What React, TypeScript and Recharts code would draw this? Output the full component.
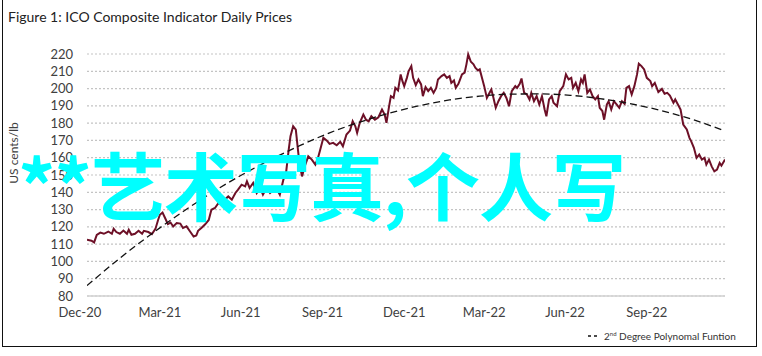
import React from 'react'
import { LineChart, Line, XAxis, YAxis, CartesianGrid } from 'recharts'

// x values are days counted from 1 Dec 2020
const priceDays = [
  8, 13, 16, 19, 23, 27, 32, 36, 38, 41, 45, 49, 53, 55, 58, 62, 66, 70, 72, 77,
  81, 85, 88, 90, 93, 96, 99, 102, 105, 109, 113, 116, 120, 124, 128, 131, 133, 137, 141, 145,
  148, 152, 156, 160, 163, 167, 171, 175, 178, 182, 186, 188, 191, 195, 199, 203, 206, 210, 214, 218,
  221, 225, 229, 232, 235, 237, 240, 243, 245, 247, 250, 253, 257, 261, 265, 268, 270, 274, 278, 281,
  285, 289, 293, 296, 300, 304, 307, 310, 312, 315, 319, 322, 325, 328, 332, 336, 340, 343, 345, 348,
  350, 353, 355, 358, 361, 363, 365, 368, 370, 373, 375, 378, 381, 384, 386, 389, 392, 395, 398, 401,
  403, 407, 410, 413, 416, 418, 421, 423, 426, 430, 433, 435, 437, 440, 443, 445, 448, 450, 453, 455,
  458, 460, 463, 465, 468, 471, 474, 477, 480, 483, 486, 490, 492, 495, 497, 500, 503, 506, 508, 511,
  514, 517, 520, 523, 525, 528, 531, 533, 537, 540, 544, 547, 550, 553, 555, 558, 561, 564, 566, 568,
  571, 574, 577, 580, 583, 585, 588, 590, 593, 595, 598, 601, 604, 607, 610, 613, 615, 618, 621, 624,
  627, 629, 632, 635, 638, 642, 644, 647, 651, 655, 658, 661, 664, 668, 670, 673, 676, 679, 683, 686,
  688, 691, 694, 697, 700, 703, 705, 708, 711, 714, 717, 720, 722, 726,
]

const prices = [
  112.5, 112, 111, 115.4, 116.7, 116, 117.3, 116, 118.9, 117, 116, 117.9, 116, 118.3, 115.4, 116, 117.7, 116, 117.7, 117,
  115.8, 118.8, 124, 127, 128.3, 125, 121.6, 122.5, 120.2, 122.2, 121.9, 119.3, 120.3, 117.3, 114.4, 115, 117.7, 119.5, 121.5, 124,
  129.9, 130.9, 133.8, 133, 135.7, 137.6, 135.7, 139.6, 141.5, 144.4, 143.4, 146.3, 142.5, 145.4, 139.6, 142.5, 138.6, 142.5, 139.6, 141.5,
  142.5, 138.6, 147.3, 151.2, 164.7, 172.4, 178.2, 176.3, 166.6, 157, 149.2, 155, 160.8, 158.9, 156, 160, 163.7, 171.5, 169.9, 168,
  168.6, 167.2, 169.2, 166.6, 173.4, 175.7, 181.1, 178.2, 174.4, 180.2, 185, 182, 181.1, 184, 182, 183.4, 187.9, 185, 180.2, 189.8,
  195.6, 194.6, 200.4, 198.9, 208.2, 204.3, 201.4, 206.2, 210.1, 213, 206.2, 202, 205.3, 202.4, 195.6, 200.8, 198.5, 200.4, 197.5, 200.4,
  205.3, 207.2, 208.2, 206.2, 207.2, 203.3, 204.7, 200.4, 202.7, 208.2, 209.2, 214, 219.8, 215.5, 214, 212.1, 210.5, 211.1, 205.3, 201.4,
  194.6, 196.6, 199.5, 195.6, 188.9, 192.7, 195.6, 197.5, 194.6, 189.8, 198.5, 201.4, 200.4, 202.7, 205.8, 197.5, 196.6, 193.7, 197.5, 192.7,
  195.6, 190.8, 195.6, 187.9, 184, 193.7, 195.6, 191.8, 189.8, 198.5, 201.4, 208.2, 205.3, 206.2, 200.4, 203.3, 198.5, 205.3, 203.3, 208.2,
  197.5, 199.5, 195.6, 193.7, 195.6, 188.9, 187, 182, 190.8, 192.7, 187.9, 192.7, 190.8, 188.9, 192.7, 191.2, 200.4, 201.4, 196.6, 201.4,
  208.2, 214.4, 213, 211.1, 206.2, 204.3, 201.4, 203.3, 198, 199.8, 197, 197.5, 196, 191.8, 193.7, 190.8, 187.9, 179.2, 176.3, 171.5,
  169.5, 165.7, 159.9, 161.8, 158.9, 159.9, 156, 158.9, 155, 152.1, 153.1, 157, 155.4, 158.9,
]

const trendDays = [8, 45, 79, 113, 146, 180, 214, 248, 281, 315, 349, 383, 416, 450, 484, 518, 552, 585, 619, 653, 687, 726]
const trendValues = [
  86, 101.9, 115.3, 127.7, 139, 149.4, 158.7, 167.1, 174.4, 180.6, 185.9,
  190.2, 193.4, 195.6, 196.8, 196.9, 196.1, 194.2, 191.3, 187.4, 182.5, 175.5,
]

const tickDays = [0, 90, 181, 273, 365, 455, 546, 638]
const tickLabels = ['Dec-20', 'Mar-21', 'Jun-21', 'Sep-21', 'Dec-21', 'Mar-22', 'Jun-22', 'Sep-22']
const yTicks = [80, 90, 100, 110, 120, 130, 140, 150, 160, 170, 180, 190, 200, 210, 220]

const priceData = priceDays.map((day, i) => ({ day, price: prices[i] }))
const trendData = trendDays.map((day, i) => ({ day, trend: trendValues[i] }))

const font = 'Lato, "Open Sans", sans-serif'
const tickStyle = { fontSize: 13, fill: '#404040', fontFamily: font }

export default function App() {
  const labelFor = (d: number) => tickLabels[tickDays.indexOf(d)] ?? ''

  return (
    <div style={{ position: 'absolute', left: 0, top: 0, width: 762, height: 356, background: '#fff', overflow: 'hidden' }}>
      <div
        style={{
          position: 'absolute', left: 2, top: -2, width: 753, height: 348,
          borderLeft: '1.5px solid #111', borderRight: '1.5px solid #111', borderBottom: '1.5px solid #111',
        }}
      />
      <div style={{ position: 'absolute', left: 8, top: 8, fontFamily: font, fontSize: 14, color: '#222' }}>
        Figure 1: ICO Composite Indicator Daily Prices
      </div>
      <div
        style={{
          position: 'absolute', left: 13, top: 153, fontFamily: font, fontSize: 12, color: '#404040',
          transform: 'translate(-50%, -50%) rotate(-90deg)', whiteSpace: 'nowrap',
        }}
      >
        US cents/lb
      </div>

      <div style={{ position: 'absolute', left: 0, top: 0 }}>
        <LineChart width={762} height={356} margin={{ top: 54, right: 37, bottom: 30, left: 27 }}>
          <CartesianGrid vertical={false} stroke="#c4c4c4" strokeDasharray="2 2" strokeWidth={1.2} />
          <XAxis
            type="number"
            dataKey="day"
            domain={[8, 726]}
            allowDataOverflow
            ticks={tickDays}
            interval={0}
            tickFormatter={labelFor}
            tick={tickStyle}
            tickLine={false}
            tickSize={6}
            tickMargin={6}
            height={30}
            axisLine={{ stroke: '#d0d0d0', strokeWidth: 1.5 }}
          />
          <YAxis
            type="number"
            domain={[80, 220]}
            ticks={yTicks}
            interval={0}
            tick={tickStyle}
            tickLine={false}
            axisLine={false}
            tickSize={6}
            tickMargin={8}
            width={60}
          />
          <Line
            data={priceData}
            dataKey="price"
            type="linear"
            stroke="#6d1027"
            strokeWidth={2}
            dot={false}
            isAnimationActive={false}
          />
          <Line
            data={trendData}
            dataKey="trend"
            type="monotone"
            stroke="#111"
            strokeWidth={1.3}
            strokeDasharray="7 4"
            dot={false}
            isAnimationActive={false}
          />
        </LineChart>
      </div>

      <div
        style={{
          position: 'absolute', left: 588, top: 330, fontFamily: font, fontSize: 10, color: '#333',
          display: 'flex', alignItems: 'center', whiteSpace: 'nowrap',
        }}
      >
        <svg width={12} height={6} style={{ marginRight: 4 }}>
          <line x1={0} y1={3} x2={12} y2={3} stroke="#111" strokeWidth={1.5} strokeDasharray="3 3" />
        </svg>
        <span>
          2<sup style={{ fontSize: 6 }}>nd</sup> Degree Polynomal Funtion
        </span>
      </div>

      <div
        style={{
          position: 'absolute', left: 18, top: 146, fontFamily: '"Noto Sans CJK SC", sans-serif',
          fontSize: 74, lineHeight: '74px', fontWeight: 700, color: '#00ffff', whiteSpace: 'nowrap',
          letterSpacing: -1, pointerEvents: 'none',
        }}
      >
        **艺术写真,个人写
      </div>
    </div>
  )
}
